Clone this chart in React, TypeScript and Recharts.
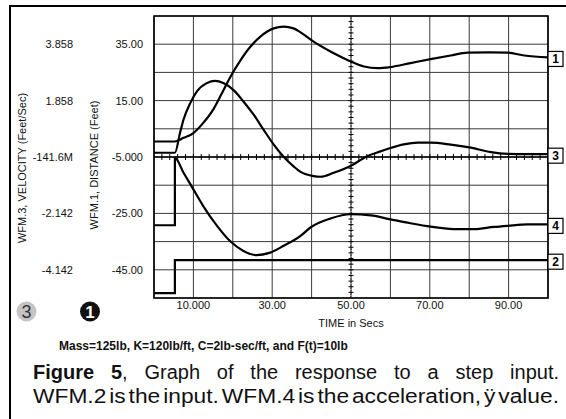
import React from 'react';
import {
  LineChart, Line, XAxis, YAxis, CartesianGrid,
  ReferenceLine, ReferenceArea, LabelList
} from 'recharts';

const FONT = '"Liberation Sans", Arial, Helvetica, sans-serif';

// time axis and the shared left scale (distance units, velocity labels mapped onto it)
const X_TICKS = [0, 10, 20, 30, 40, 50, 60, 70, 80, 90, 100];
const X_LABELS: Record<string, string> = { '10': '10.000', '30': '30.00', '50': '50.00', '70': '70.00', '90': '90.00' };
const Y_TICKS = [-55, -45, -35, -25, -15, -5, 5, 15, 25, 35, 45];
const DIST_LABELS: Record<string, string> = { '35': '35.00', '15': '15.00', '-5': '-5.000', '-25': '-25.00', '-45': '-45.00' };
const VEL_LABELS: Record<string, string> = { '35': '3.858', '15': '1.858', '-5': '-141.6M', '-25': '-2.142', '-45': '-4.142' };
const MINOR_STEP = 2; // minor ticks on the centre cross

// WFM.1 distance
const WFM1_T = [0, 5.3, 7.5, 10, 12.5, 15.1, 17.2, 19.3, 21.9, 24.4, 27, 30.4, 32.9, 35.4, 37.2, 40.5, 44.8, 49.9, 53.3, 56.7, 60, 65.1, 70.2, 75.3, 79.6, 85, 89.7, 94, 100];
const WFM1_V = [0.5, 0.5, 1.8, 3.5, 7.1, 12, 17.5, 23.2, 29.2, 34, 37.7, 40.6, 41.2, 40.6, 39.2, 35.9, 32.4, 28.9, 27.1, 26.5, 26.9, 28.3, 29.7, 31, 32, 32.1, 32, 31, 30.3];
// WFM.2 step input
const WFM2_T = [0, 5.3, 5.3, 100];
const WFM2_V = [-53.3, -53.3, -41.6, -41.6];
// WFM.3 velocity
const WFM3_T = [0, 5.3, 6.6, 7.5, 9.2, 10.9, 13.4, 15.5, 17.6, 20.2, 22.7, 25.3, 27.8, 30.4, 32.9, 35.5, 37.2, 40.5, 42.2, 45.6, 49.9, 54.1, 57.5, 60, 63.4, 67, 70.2, 75.3, 80.4, 85.5, 89.7, 95, 100];
const WFM3_V = [-3.5, -3.5, 3.5, 8.3, 14.1, 18.3, 21.2, 22, 21.2, 18.7, 14.7, 10, 4.7, -0.6, -4.9, -8.4, -10.3, -11.8, -12, -10.6, -8.2, -4.7, -3, -1.8, -0.5, 0.1, 0.1, -0.6, -1.7, -3.3, -3.9, -4, -4];
// WFM.4 acceleration
const WFM4_T = [0, 5.3, 5.3, 7.5, 10, 12.5, 16, 19.3, 22.7, 26, 29.5, 32.9, 37.2, 39.7, 44.8, 49.9, 55, 60, 65.1, 70.2, 77, 81.2, 86.3, 89.7, 94.8, 100];
const WFM4_V = [-29.2, -29.2, -5.3, -10.6, -16.5, -22.4, -29.4, -34.8, -38.3, -39.8, -38.9, -36.5, -33, -30, -26.8, -25.3, -25.7, -27.1, -28.5, -29.7, -30.6, -30.6, -29.8, -29.4, -28.9, -28.9];

const toData = (t: number[], v: number[], tag: string) =>
  t.map((x, i) => ({ t: x, v: v[i], tag: i === t.length - 1 ? tag : null }));

const wfm1 = toData(WFM1_T, WFM1_V, '1');
const wfm2 = toData(WFM2_T, WFM2_V, '2');
const wfm3 = toData(WFM3_T, WFM3_V, '3');
const wfm4 = toData(WFM4_T, WFM4_V, '4');

const XTick = ({ x, y, payload }: any) => {
  const s = X_LABELS[String(payload.value)];
  if (!s) return <g />;
  return (
    <text x={x} y={y + 11} textAnchor="middle" fontSize={11} fontFamily={FONT} fill="#111">{s}</text>
  );
};

const YTick = ({ x, y, payload }: any) => {
  const key = String(payload.value);
  if (!DIST_LABELS[key]) return <g />;
  return (
    <g fontSize={11} fontFamily={FONT} fill="#111">
      <text x={x - 11} y={y + 4} textAnchor="end">{DIST_LABELS[key]}</text>
      <text x={x - 81} y={y + 4} textAnchor="end">{VEL_LABELS[key]}</text>
    </g>
  );
};

const YTitles = ({ viewBox }: any) => {
  const cy = viewBox.y + viewBox.height / 2;
  const xd = viewBox.x + 98;
  const xv = viewBox.x + 26;
  return (
    <g fontSize={11} fontFamily={FONT} fill="#111" textAnchor="middle">
      <text x={xd} y={cy + 8} transform={`rotate(-90 ${xd} ${cy + 8})`}>WFM.1, DISTANCE (Feet)</text>
      <text x={xv} y={cy + 11} transform={`rotate(-90 ${xv} ${cy + 11})`}>WFM.3, VELOCITY (Feet/Sec)</text>
    </g>
  );
};

// centre lines of the scope grid carry minor ticks
const HCenter = (p: any) => {
  const n = (X_TICKS[X_TICKS.length - 1] - X_TICKS[0]) / MINOR_STEP;
  const step = (p.x2 - p.x1) / n;
  return (
    <g>
      <line x1={p.x1} y1={p.y1} x2={p.x2} y2={p.y2} stroke="#000" strokeWidth={1.4} />
      {Array.from({ length: n - 1 }, (_, i) => (
        <line key={i} x1={p.x1 + step * (i + 1)} x2={p.x1 + step * (i + 1)} y1={p.y1 - 3} y2={p.y1 + 3} stroke="#000" strokeWidth={1} />
      ))}
    </g>
  );
};

const VCenter = (p: any) => {
  const n = (Y_TICKS[Y_TICKS.length - 1] - Y_TICKS[0]) / MINOR_STEP;
  const step = (p.y2 - p.y1) / n;
  return (
    <g>
      <line x1={p.x1} y1={p.y1} x2={p.x2} y2={p.y2} stroke="#333" strokeWidth={1} strokeDasharray="2 1" />
      {Array.from({ length: n - 1 }, (_, i) => (
        <line key={i} x1={p.x1 - 2.5} x2={p.x1 + 2.5} y1={p.y1 + step * (i + 1)} y2={p.y1 + step * (i + 1)} stroke="#000" strokeWidth={1} />
      ))}
    </g>
  );
};

const EndTag = (props: any) => {
  const { value } = props;
  if (value == null || value === '') return null;
  const x = props.x ?? props.viewBox?.x;
  const y = props.y ?? props.viewBox?.y;
  return (
    <g>
      <rect x={x} y={y - 6} width={15} height={15} fill="#fff" stroke="#000" strokeWidth={1.2} />
      <text x={x + 7.5} y={y + 6} textAnchor="middle" fontSize={12} fontWeight="bold" fontFamily={FONT} fill="#000">{value}</text>
    </g>
  );
};

export default function App() {
  const lineProps = {
    xAxisId: 0, yAxisId: 0, dataKey: 'v', stroke: '#000', strokeWidth: 2.2,
    dot: false, isAnimationActive: false,
  };
  return (
    <div style={{ position: 'absolute', left: 0, top: 0, width: 566, height: 419, background: '#fff', overflow: 'hidden', fontFamily: FONT }}>
      <div style={{ position: 'absolute', left: 9, top: 5, width: 600, height: 500, borderTop: '2px solid #000', borderLeft: '2px solid #000' }} />
      <div style={{ position: 'absolute', left: 0, top: 0 }}>
        <LineChart width={566} height={340} margin={{ top: 16, right: 18, bottom: 0, left: 0 }}>
          <CartesianGrid stroke="#3a3a3a" strokeWidth={1} />
          <XAxis
            dataKey="t" type="number" domain={[0, 100]} ticks={X_TICKS} interval={0}
            axisLine={false} tickLine={false} tickSize={0} tickMargin={0} height={42}
            tick={<XTick />}
            label={{ value: 'TIME in Secs', position: 'insideBottom', offset: 13, fontSize: 11, fill: '#111', fontFamily: FONT }}
          />
          <YAxis
            type="number" domain={[-55, 45]} ticks={Y_TICKS} interval={0} width={154}
            axisLine={false} tickLine={false} tickSize={0} tickMargin={0}
            tick={<YTick />} label={<YTitles />}
          />
          <ReferenceLine y={-5} shape={HCenter} />
          <ReferenceLine x={50} shape={VCenter} />
          <Line {...lineProps} data={wfm2} type="linear">
            <LabelList dataKey="tag" content={EndTag} />
          </Line>
          <Line {...lineProps} data={wfm4} type="monotone">
            <LabelList dataKey="tag" content={EndTag} />
          </Line>
          <Line {...lineProps} data={wfm3} type="monotone">
            <LabelList dataKey="tag" content={EndTag} />
          </Line>
          <Line {...lineProps} data={wfm1} type="monotone">
            <LabelList dataKey="tag" content={EndTag} />
          </Line>
          <ReferenceArea x1={0} x2={100} y1={-55} y2={45} fill="none" stroke="#000" strokeWidth={1.6} />
        </LineChart>
      </div>
      <svg width={566} height={419} style={{ position: 'absolute', left: 0, top: 0, pointerEvents: 'none' }}>
        <circle cx={26.5} cy={311.5} r={10} fill="#c4c4c4" />
        <text x={26.5} y={318} textAnchor="middle" fontSize={18} fontFamily={FONT} fill="#333">3</text>
        <circle cx={90} cy={311.5} r={10} fill="#111" />
        <text x={90} y={318} textAnchor="middle" fontSize={17} fontWeight="bold" fontFamily={FONT} fill="#fff">1</text>
        <text x={59} y={350} fontSize={12} fontWeight="bold" fontFamily={FONT} fill="#111">
          Mass=125lb, K=120lb/ft, C=2lb-sec/ft, and F(t)=10lb
        </text>
        <text x={33} y={402.7} fontSize={20} fontFamily={FONT} fill="#111" wordSpacing={-3} textLength={526} lengthAdjust="spacingAndGlyphs">
          WFM.2 is the input. WFM.4 is the acceleration, ÿ value.
        </text>
      </svg>
      <div style={{ position: 'absolute', left: 33, top: 362.4, width: 526, fontSize: 20, lineHeight: '20px', color: '#111', textAlign: 'justify', textAlignLast: 'justify' }}>
        <b>Figure 5</b>, Graph of the response to a step input.
      </div>
    </div>
  );
}
